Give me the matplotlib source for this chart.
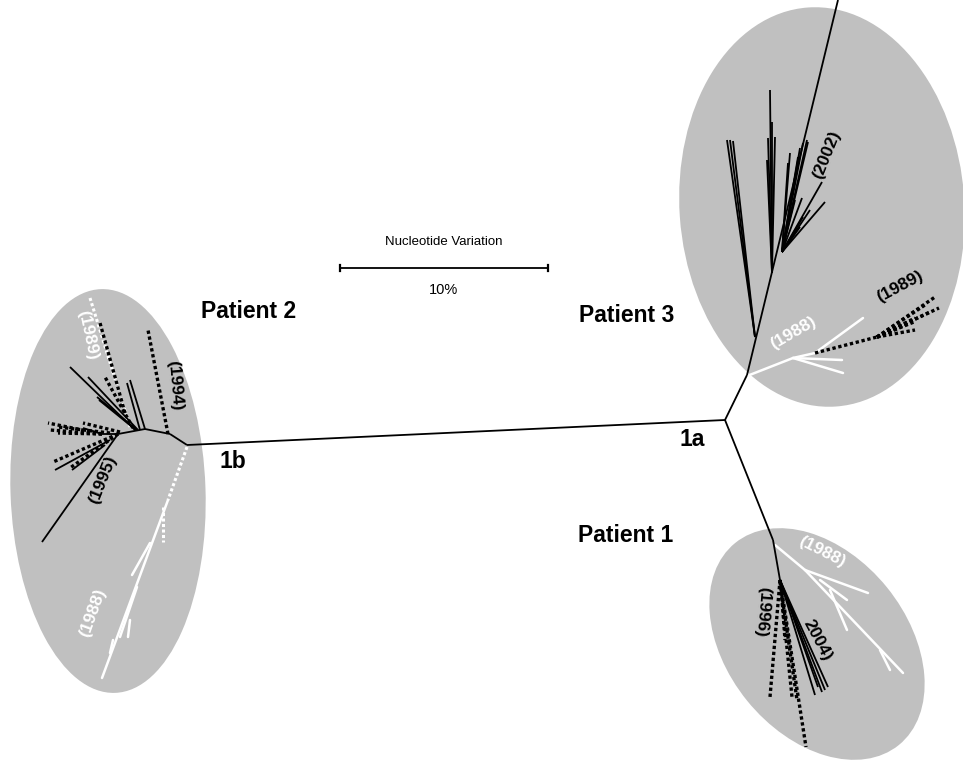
import matplotlib
matplotlib.use("Agg")
import matplotlib.pyplot as plt
from matplotlib.patches import Ellipse
from matplotlib.collections import LineCollection

plt.rcParams['font.family'] = ['Liberation Sans', 'DejaVu Sans']

# ---------------- data (tree drawn in image-pixel units) ----------------
# clade ellipses: centre x, centre y, width, height, angle
clade_names = ["Patient 1", "Patient 2", "Patient 3"]
clade_cx = [817, 108, 822]
clade_cy = [644, 491, 207]
clade_w = [260, 195, 285]
clade_h = [180, 404, 400]
clade_angle = [51, -2, -4]

# branches: (x0, y0, x1, y1)
black_solid = [
    # backbone 1b -> 1a
    (187, 445, 725, 420),
    # patient 3 stem and main branches
    (725, 420, 747, 375), (747, 375, 838, 0),
    (755, 337, 727, 140), (755, 337, 730, 140), (755, 337, 733, 141),
    (772, 273, 770, 90), (772, 273, 772, 122), (772, 273, 768, 138),
    (772, 273, 767, 160), (772, 273, 775, 137),
    (782, 252, 790, 153), (782, 252, 800, 148), (782, 252, 803, 143),
    (782, 252, 807, 140), (782, 252, 808, 142), (782, 252, 798, 157),
    (782, 252, 788, 163), (782, 252, 795, 200), (782, 252, 802, 198),
    (782, 252, 825, 202), (782, 252, 822, 182), (782, 252, 810, 210),
    (782, 252, 803, 217), (782, 252, 800, 227),
    # patient 1
    (725, 420, 773, 540), (773, 540, 780, 580),
    (780, 580, 828, 687), (780, 580, 825, 690), (780, 580, 815, 695),
    (780, 580, 818, 687), (780, 580, 822, 692),
    # patient 2
    (187, 445, 170, 434), (170, 434, 145, 429), (145, 429, 118, 434),
    (118, 434, 102, 434), (102, 434, 83, 428),
    (118, 434, 42, 542),
    (145, 429, 130, 380), (140, 430, 127, 383), (135, 430, 70, 367),
    (138, 430, 88, 377), (137, 430, 97, 397), (136, 430, 99, 400),
    (110, 440, 55, 470), (105, 445, 72, 470),
]
black_dotted = [
    # patient 3 (1989)
    (815, 353, 877, 337), (877, 337, 935, 297), (877, 337, 939, 308),
    (877, 337, 930, 312), (877, 337, 914, 322), (877, 337, 915, 330),
    (877, 337, 915, 318), (877, 337, 905, 325), (877, 337, 925, 305),
    # patient 1 (1996)
    (780, 580, 770, 697), (780, 580, 792, 697), (780, 580, 806, 747),
    (781, 585, 785, 640), (780, 582, 797, 700),
    # patient 2 (1994 and mixed)
    (168, 434, 148, 330), (125, 413, 100, 323), (133, 428, 105, 377),
    (118, 434, 53, 462), (102, 434, 48, 423), (102, 434, 50, 430),
    (102, 434, 58, 433), (110, 433, 58, 427), (118, 434, 70, 468),
    (120, 432, 83, 423),
]
white_solid = [
    # patient 3 (1988)
    (747, 376, 793, 358), (793, 358, 842, 360), (793, 358, 843, 373),
    (793, 358, 815, 353), (815, 353, 863, 318),
    # patient 1 (1988)
    (775, 545, 805, 570), (805, 570, 868, 593), (820, 580, 847, 600),
    (805, 570, 903, 673), (830, 590, 847, 630), (880, 650, 890, 670),
    # patient 2 (1988)
    (168, 500, 102, 678), (150, 543, 132, 575), (137, 587, 120, 637),
    (130, 620, 128, 637), (113, 640, 110, 653),
]
white_dotted = [
    # patient 2
    (187, 447, 168, 500), (163, 507, 163, 542), (130, 427, 90, 298),
]

# labels: text, x, y, rotation, colour, size
labels = [
    ("Patient 2", 249, 311, 0, "black", 16.5),
    ("Patient 3", 627, 315, 0, "black", 16.5),
    ("Patient 1", 626, 536, 0, "black", 16.5),
    ("1b", 233, 462, 0, "black", 16.5),
    ("1a", 692, 440, 0, "black", 16.5),
    ("(2002)", 827, 155, 68, "black", 12.5),
    ("(1989)", 900, 287, 28, "black", 12.5),
    ("(1988)", 793, 333, 30, "white", 12.5),
    ("(1988)", 822, 552, -27, "white", 12.5),
    ("(1996)", 762, 612, -95, "black", 12.5),
    ("2004)", 817, 640, -62, "black", 12.5),
    ("(1989)", 88, 335, -78, "white", 12.5),
    ("(1994)", 175, 385, -85, "black", 12.5),
    ("(1995)", 103, 480, 68, "black", 12.5),
    ("(1988)", 93, 613, 70, "white", 12.5),
]

# scale bar
bar_x = [340, 548]
bar_y = 268
bar_title = "Nucleotide Variation"
bar_value = "10%"

# ---------------- drawing ----------------
fig = plt.figure(figsize=(9.63, 7.61), dpi=100)
ax = fig.add_axes([0, 0, 1, 1])
ax.set_xlim(0, 963)
ax.set_ylim(761, 0)
ax.axis("off")

for cx, cy, w, h, a in zip(clade_cx, clade_cy, clade_w, clade_h, clade_angle):
    ax.add_patch(Ellipse((cx, cy), w, h, angle=a, facecolor="#c0c0c0",
                         edgecolor="none", zorder=1))

def segs(lst):
    return [[(s[0], s[1]), (s[2], s[3])] for s in lst]

ax.add_collection(LineCollection(segs(white_solid), colors="white",
                                 linewidths=1.8, zorder=2, capstyle="round"))
ax.add_collection(LineCollection(segs(white_dotted), colors="white",
                                 linewidths=2.2, linestyles=[(0, (1, 0.8))], zorder=2))
ax.add_collection(LineCollection(segs(black_dotted), colors="black",
                                 linewidths=2.4, linestyles=[(0, (1, 0.8))], zorder=3))
ax.add_collection(LineCollection(segs(black_solid), colors="black",
                                 linewidths=1.3, zorder=4))

for t, x, y, r, c, s in labels:
    ax.text(x, y, t, rotation=r, color=c, fontsize=s, fontweight="bold",
            ha="center", va="center", rotation_mode="anchor", zorder=5)

ax.plot(bar_x, [bar_y, bar_y], color="black", lw=1.3, zorder=4)
for bx in bar_x:
    ax.plot([bx, bx], [bar_y - 3, bar_y + 3], color="black", lw=1.6, zorder=4)
ax.text(sum(bar_x) / 2, bar_y - 26, bar_title, ha="center", va="center", fontsize=9.5)
ax.text(sum(bar_x) / 2, bar_y + 22, bar_value, ha="center", va="center", fontsize=10.5)

fig.savefig("out.png", dpi=100)
